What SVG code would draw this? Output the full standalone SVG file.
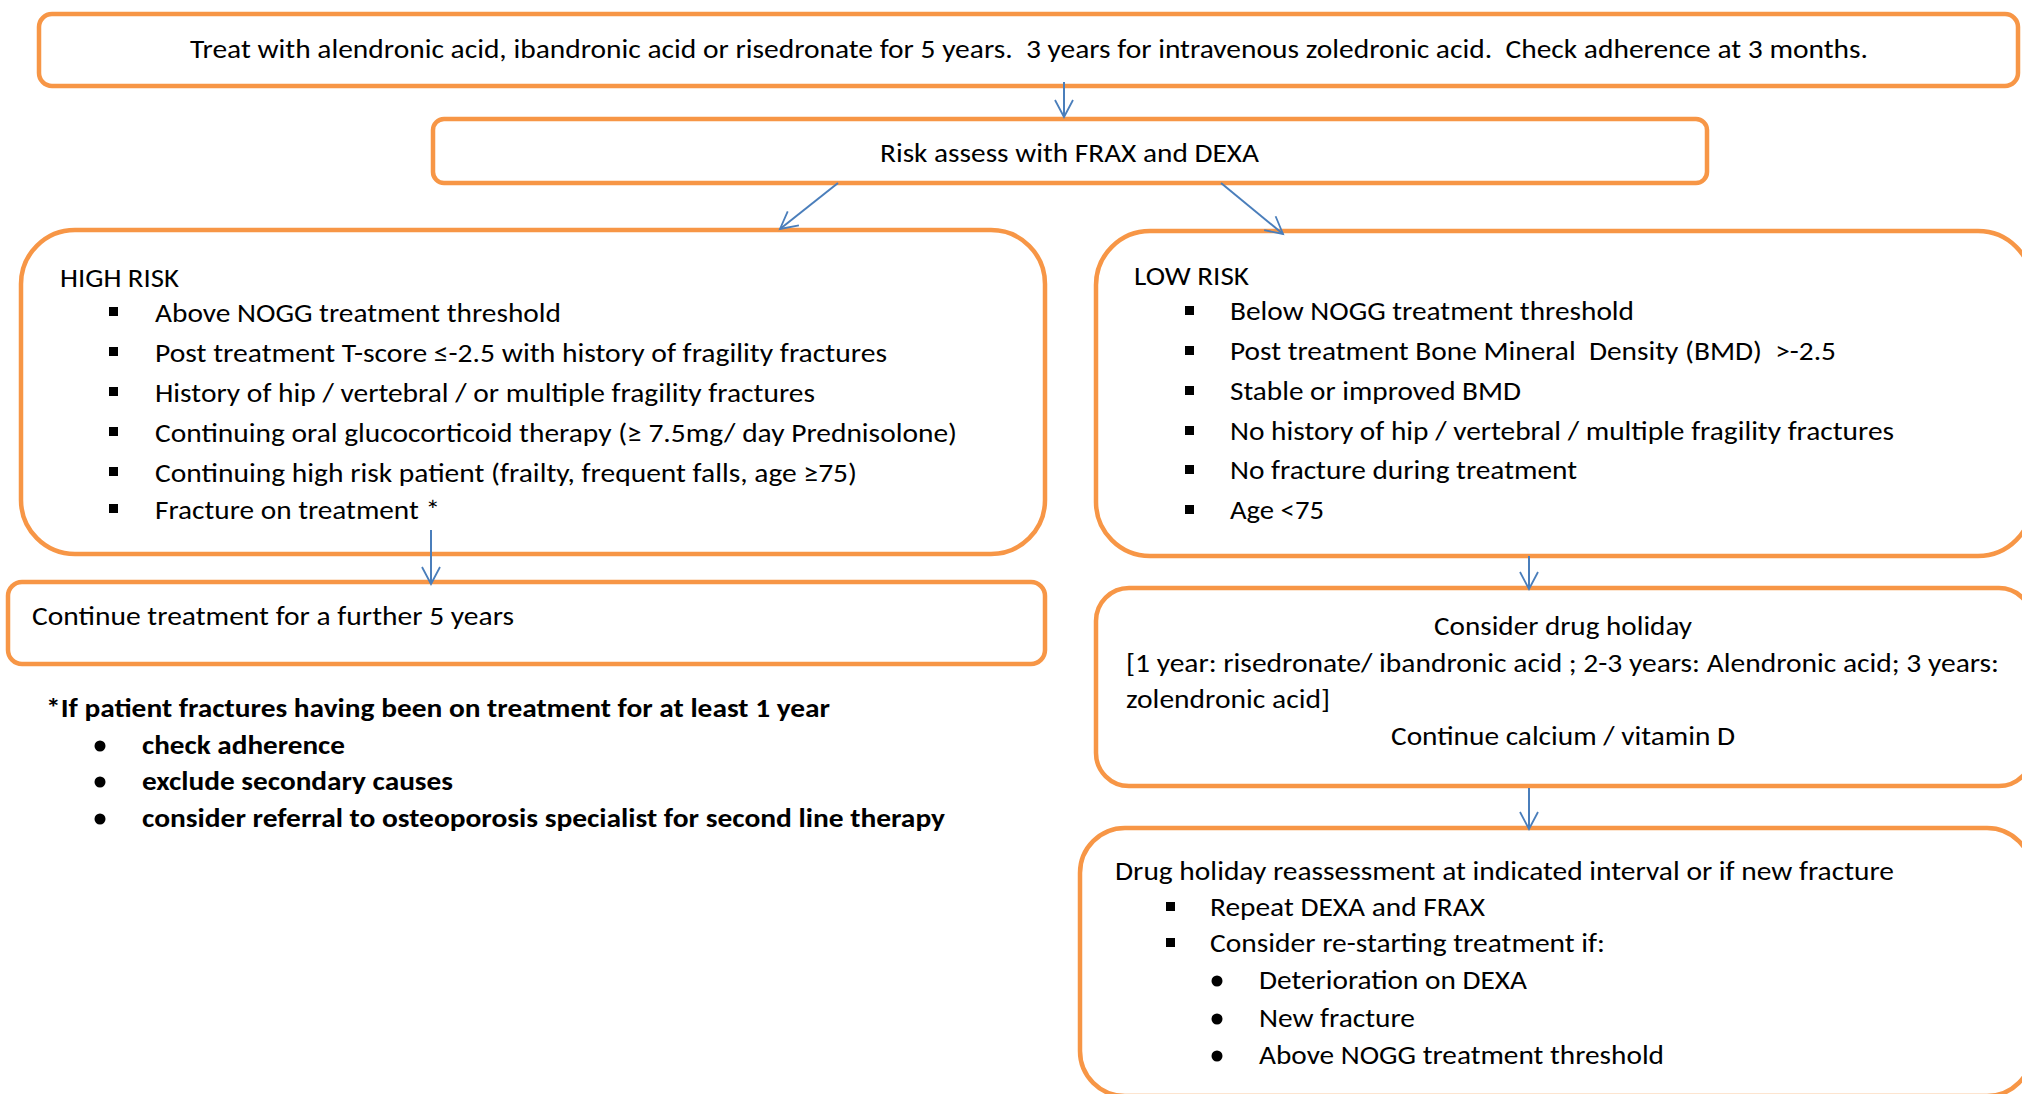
<svg xmlns="http://www.w3.org/2000/svg" width="2022" height="1094" viewBox="0 0 2022 1094">
<style>
.box{fill:#fff;stroke:#F79646;stroke-width:4.5}
.t{font-family:Carlito,Lato,"Open Sans",sans-serif;font-size:27px;fill:#000;white-space:pre}
.b{font-weight:bold}
.c{stroke:#4A7EBB;stroke-width:2;fill:none}
.sq{fill:#000}
</style>
<defs>
<marker id="arr" markerUnits="userSpaceOnUse" markerWidth="24" markerHeight="24" viewBox="-20 -12 24 24" refX="0" refY="0" orient="auto">
<path d="M-17,-9 L0,0 L-17,9" fill="none" stroke="#4A7EBB" stroke-width="1.8"/>
</marker>
</defs>
<rect width="2022" height="1094" fill="#fff"/>

<g id="node-treat">
<rect class="box" x="39" y="14" width="1979" height="72" rx="13"/>
<text class="t" x="190" y="58" textLength="1678" lengthAdjust="spacingAndGlyphs" xml:space="preserve">Treat with alendronic acid, ibandronic acid or risedronate for 5 years.  3 years for intravenous zoledronic acid.  Check adherence at 3 months.</text>
</g>

<g id="node-risk">
<rect class="box" x="433" y="119" width="1274" height="64" rx="11"/>
<text class="t" x="880" y="162" textLength="379" lengthAdjust="spacingAndGlyphs">Risk assess with FRAX and DEXA</text>
</g>

<g id="node-high">
<rect class="box" x="21" y="230" width="1024" height="324" rx="54"/>
<text class="t" x="60" y="287" textLength="119" lengthAdjust="spacingAndGlyphs">HIGH RISK</text>
<rect class="sq" x="109" y="307" width="9" height="9"/>
<text class="t" x="155" y="322" textLength="406" lengthAdjust="spacingAndGlyphs">Above NOGG treatment threshold</text>
<rect class="sq" x="109" y="347" width="9" height="9"/>
<text class="t" x="155" y="362" textLength="732" lengthAdjust="spacingAndGlyphs">Post treatment T-score ≤-2.5 with history of fragility fractures</text>
<rect class="sq" x="109" y="387" width="9" height="9"/>
<text class="t" x="155" y="402" textLength="660" lengthAdjust="spacingAndGlyphs">History of hip / vertebral / or multiple fragility fractures</text>
<rect class="sq" x="109" y="427" width="9" height="9"/>
<text class="t" x="155" y="442" textLength="802" lengthAdjust="spacingAndGlyphs">Continuing oral glucocorticoid therapy (≥ 7.5mg/ day Prednisolone)</text>
<rect class="sq" x="109" y="467" width="9" height="9"/>
<text class="t" x="155" y="482" textLength="702" lengthAdjust="spacingAndGlyphs">Continuing high risk patient (frailty, frequent falls, age ≥75)</text>
<rect class="sq" x="109" y="504" width="9" height="9"/>
<text class="t" x="155" y="519" textLength="285" lengthAdjust="spacingAndGlyphs">Fracture on treatment *</text>
</g>

<g id="node-continue">
<rect class="box" x="8" y="582" width="1037" height="82" rx="14"/>
<text class="t" x="32" y="625" textLength="482" lengthAdjust="spacingAndGlyphs">Continue treatment for a further 5 years</text>
</g>

<g id="note">
<text class="t b" x="46" y="717" textLength="784" lengthAdjust="spacingAndGlyphs">*If patient fractures having been on treatment for at least 1 year</text>
<circle cx="100" cy="746" r="5.5"/>
<text class="t b" x="142" y="754" textLength="203" lengthAdjust="spacingAndGlyphs">check adherence</text>
<circle cx="100" cy="782" r="5.5"/>
<text class="t b" x="142" y="790" textLength="311" lengthAdjust="spacingAndGlyphs">exclude secondary causes</text>
<circle cx="100" cy="819" r="5.5"/>
<text class="t b" x="142" y="827" textLength="803" lengthAdjust="spacingAndGlyphs">consider referral to osteoporosis specialist for second line therapy</text>
</g>

<g id="node-low">
<rect class="box" x="1096" y="231" width="936" height="325" rx="54"/>
<text class="t" x="1134" y="285" textLength="115" lengthAdjust="spacingAndGlyphs">LOW RISK</text>
<rect class="sq" x="1185" y="306" width="9" height="9"/>
<text class="t" x="1230" y="320" textLength="404" lengthAdjust="spacingAndGlyphs">Below NOGG treatment threshold</text>
<rect class="sq" x="1185" y="346" width="9" height="9"/>
<text class="t" x="1230" y="360" textLength="606" lengthAdjust="spacingAndGlyphs" xml:space="preserve">Post treatment Bone Mineral  Density (BMD)  &gt;-2.5</text>
<rect class="sq" x="1185" y="386" width="9" height="9"/>
<text class="t" x="1230" y="400" textLength="291" lengthAdjust="spacingAndGlyphs">Stable or improved BMD</text>
<rect class="sq" x="1185" y="426" width="9" height="9"/>
<text class="t" x="1230" y="440" textLength="664" lengthAdjust="spacingAndGlyphs">No history of hip / vertebral / multiple fragility fractures</text>
<rect class="sq" x="1185" y="465" width="9" height="9"/>
<text class="t" x="1230" y="479" textLength="347" lengthAdjust="spacingAndGlyphs">No fracture during treatment</text>
<rect class="sq" x="1185" y="505" width="9" height="9"/>
<text class="t" x="1230" y="519" textLength="94" lengthAdjust="spacingAndGlyphs">Age &lt;75</text>
</g>

<g id="node-holiday">
<rect class="box" x="1096" y="588" width="936" height="198" rx="33"/>
<text class="t" x="1563" y="635" text-anchor="middle" textLength="258" lengthAdjust="spacingAndGlyphs">Consider drug holiday</text>
<text class="t" x="1126" y="672" textLength="873" lengthAdjust="spacingAndGlyphs">[1 year: risedronate/ ibandronic acid ; 2-3 years: Alendronic acid; 3 years:</text>
<text class="t" x="1126" y="708" textLength="204" lengthAdjust="spacingAndGlyphs">zolendronic acid]</text>
<text class="t" x="1563" y="745" text-anchor="middle" textLength="344" lengthAdjust="spacingAndGlyphs">Continue calcium / vitamin D</text>
</g>

<g id="node-reassess">
<rect class="box" x="1080" y="828" width="952" height="268" rx="45"/>
<text class="t" x="1115" y="880" textLength="779" lengthAdjust="spacingAndGlyphs">Drug holiday reassessment at indicated interval or if new fracture</text>
<rect class="sq" x="1166" y="902" width="9" height="9"/>
<text class="t" x="1210" y="916" textLength="275" lengthAdjust="spacingAndGlyphs">Repeat DEXA and FRAX</text>
<rect class="sq" x="1166" y="938" width="9" height="9"/>
<text class="t" x="1210" y="952" textLength="395" lengthAdjust="spacingAndGlyphs">Consider re-starting treatment if:</text>
<circle cx="1217" cy="981" r="5.5"/>
<text class="t" x="1259" y="989" textLength="268" lengthAdjust="spacingAndGlyphs">Deterioration on DEXA</text>
<circle cx="1217" cy="1019" r="5.5"/>
<text class="t" x="1259" y="1027" textLength="156" lengthAdjust="spacingAndGlyphs">New fracture</text>
<circle cx="1217" cy="1056" r="5.5"/>
<text class="t" x="1259" y="1064" textLength="405" lengthAdjust="spacingAndGlyphs">Above NOGG treatment threshold</text>
</g>

<g id="connectors">
<line class="c" x1="1064" y1="82" x2="1064" y2="117" marker-end="url(#arr)"/>
<line class="c" x1="838" y1="183" x2="780" y2="229" marker-end="url(#arr)"/>
<line class="c" x1="1221" y1="183" x2="1283" y2="234" marker-end="url(#arr)"/>
<line class="c" x1="431" y1="530" x2="431" y2="584" marker-end="url(#arr)"/>
<line class="c" x1="1529" y1="556" x2="1529" y2="589" marker-end="url(#arr)"/>
<line class="c" x1="1529" y1="788" x2="1529" y2="829" marker-end="url(#arr)"/>
</g>
</svg>
